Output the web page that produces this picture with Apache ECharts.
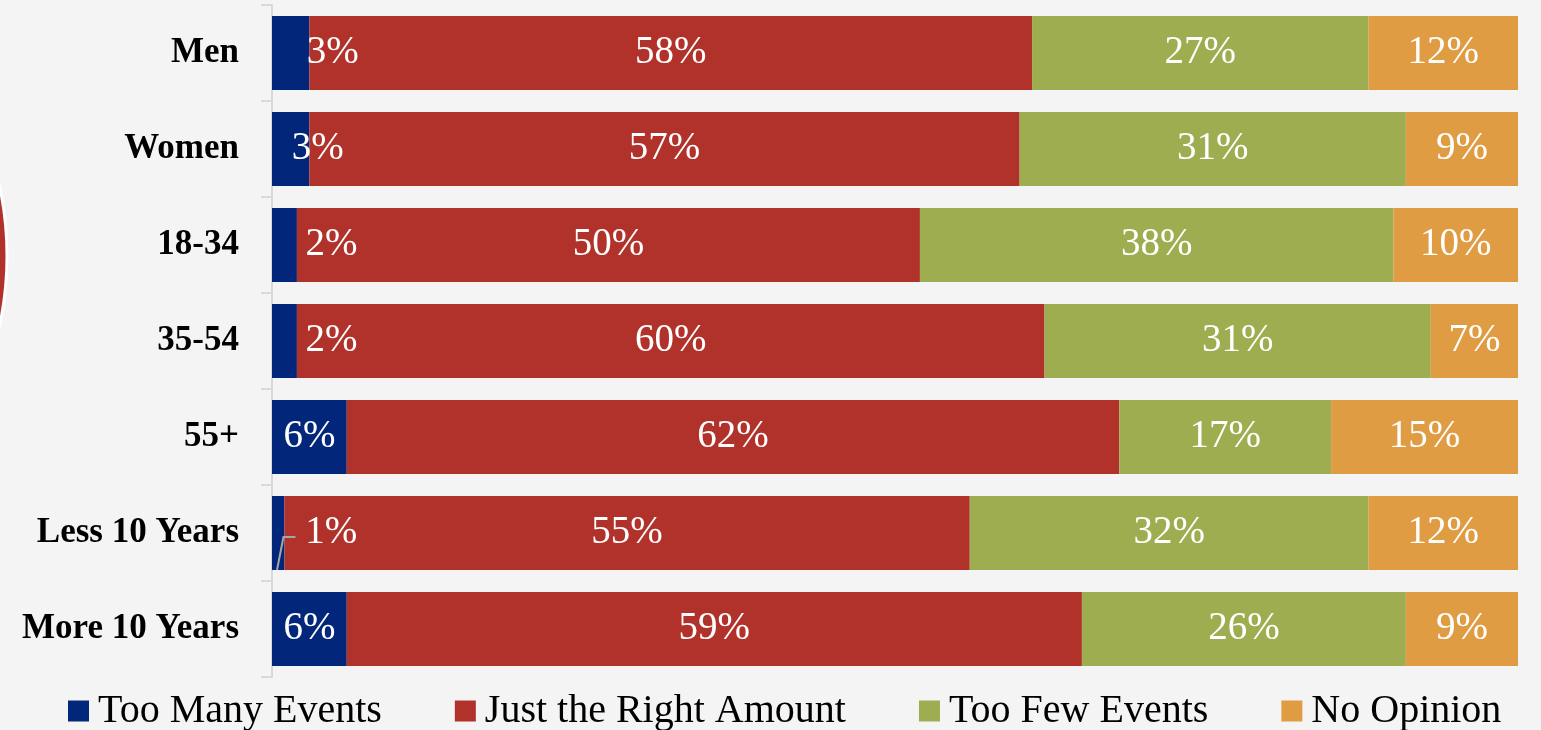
<!DOCTYPE html>
<html>
<head>
<meta charset="utf-8">
<script src="https://cdn.jsdelivr.net/npm/echarts@6/dist/echarts.min.js"></script>
<style>
  html, body { margin: 0; padding: 0; background: #f4f4f4; }
  #chart { width: 1541px; height: 730px; }
</style>
</head>
<body>
<div id="chart"></div>
<script>
var categories = ['Men', 'Women', '18-34', '35-54', '55+', 'Less 10 Years', 'More 10 Years'];
var seriesNames = ['Too Many Events', 'Just the Right Amount', 'Too Few Events', 'No Opinion'];
var tooMany = [3, 3, 2, 2, 6, 1, 6];
var justRight = [58, 57, 50, 60, 62, 55, 59];
var tooFew = [27, 31, 38, 31, 17, 32, 26];
var noOpinion = [12, 9, 10, 7, 15, 12, 9];

var colors = ['#02277a', '#b0322b', '#9fad51', '#e09c42'];
var serif = '"Liberation Serif", "DejaVu Serif", serif';

// small blue segments: label pushed right of the bar (px)
var blueShift = [42, 27, 47, 47, 0, 53, 0];
var leaderIndex = 5; // "1%" gets a leader line
var barW = 74;

var chart = echarts.init(document.getElementById('chart'));

function makeSeries(name, values, idx) {
  var s = {
    name: name,
    type: 'bar',
    stack: 'total',
    barWidth: barW,
    itemStyle: { color: colors[idx] },
    label: {
      show: true,
      position: 'inside',
      color: '#ffffff',
      fontFamily: serif,
      fontSize: 39,
      formatter: '{c}%'
    },
    data: values
  };
  if (idx === 0) {
    s.labelLayout = function (p) {
      return { dx: blueShift[p.dataIndex] };
    };
  }
  return s;
}

chart.setOption({
  backgroundColor: '#f4f4f4',
  animation: false,
  graphic: [{
    id: 'arc',
    type: 'circle',
    shape: { cx: -323, cy: 256, r: 330 },
    style: { fill: '#b0322b', stroke: '#ffffff', lineWidth: 3 },
    silent: true
  }],
  grid: { left: 272, right: 23, top: 5, bottom: 53 },
  legend: {
    data: seriesNames,
    left: 63,
    top: 686,
    itemWidth: 21,
    itemHeight: 21,
    itemGap: 73,
    icon: 'rect',
    textStyle: { fontFamily: serif, fontSize: 40, color: '#000000', padding: [0, 0, 0, 4] }
  },
  xAxis: {
    type: 'value',
    min: 0,
    max: 100,
    show: false
  },
  yAxis: {
    type: 'category',
    inverse: true,
    data: categories,
    axisLine: { show: true, lineStyle: { color: '#d9d9d9', width: 2 } },
    axisTick: { show: true, length: 11, lineStyle: { color: '#d9d9d9', width: 2 } },
    axisLabel: {
      margin: 33,
      color: '#000000',
      fontFamily: serif,
      fontWeight: 'bold',
      fontSize: 35
    },
    splitLine: { show: false }
  },
  series: [
    makeSeries(seriesNames[0], tooMany, 0),
    makeSeries(seriesNames[1], justRight, 1),
    makeSeries(seriesNames[2], tooFew, 2),
    makeSeries(seriesNames[3], noOpinion, 3)
  ]
});

// leader line for the tiny "1%" segment, placed through the axes
var end = chart.convertToPixel({ gridIndex: 0 }, [tooMany[leaderIndex], leaderIndex]);
var start = chart.convertToPixel({ gridIndex: 0 }, [0, leaderIndex]);
var bottom = end[1] + barW / 2;
chart.setOption({
  graphic: [{
    id: 'leader',
    type: 'polyline',
    shape: { points: [[start[0] + 5, bottom], [end[0] - 1, end[1] + 4], [end[0] + 11, end[1] + 4]] },
    style: { stroke: '#a6a6a6', lineWidth: 2, fill: null },
    z: 10,
    silent: true
  }]
});
</script>
</body>
</html>
